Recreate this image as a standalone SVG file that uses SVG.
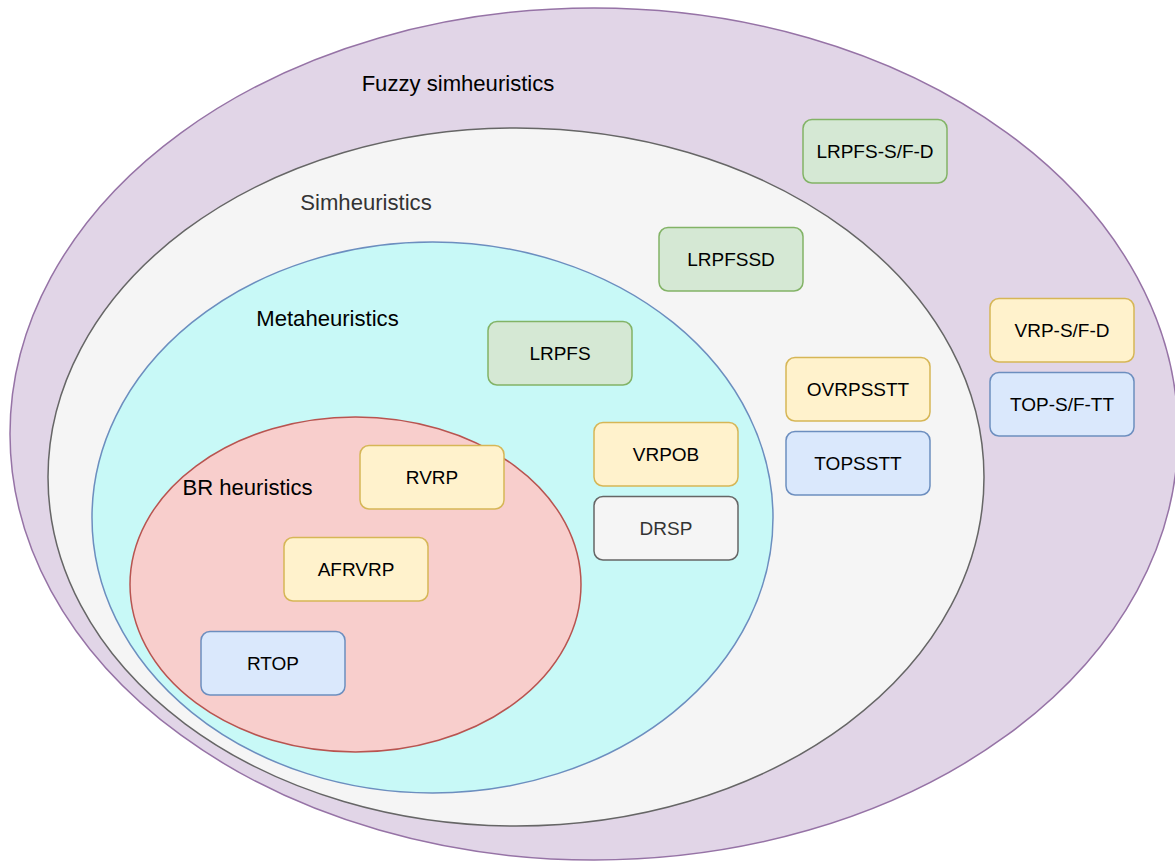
<svg xmlns="http://www.w3.org/2000/svg" width="1175" height="861" viewBox="0 0 1175 861">
<style>
text{font-family:"Liberation Sans",Arial,sans-serif;text-anchor:middle;fill:#000}
.lbl{font-size:22.1px}
.bt{font-size:19px}
.box{stroke-width:1.5}
.green{fill:#d5e8d4;stroke:#82b366}
.yellow{fill:#fff2cc;stroke:#d6b656}
.blue{fill:#dae8fc;stroke:#6c8ebf}
.grey{fill:#f5f5f5;stroke:#666666}
</style>
<rect width="1175" height="861" fill="#ffffff"/>
<g id="fuzzy">
<ellipse cx="594" cy="434" rx="584" ry="426" fill="#e1d5e7" stroke="#9673a6" stroke-width="1.5"/>
<text class="lbl" x="458" y="91">Fuzzy simheuristics</text>
</g>
<g id="simheuristics">
<ellipse cx="516" cy="477" rx="468" ry="349" fill="#f5f5f5" stroke="#666666" stroke-width="1.5"/>
<text class="lbl" x="366" y="210" style="fill:#333333">Simheuristics</text>
</g>
<g id="metaheuristics">
<ellipse cx="432.5" cy="517.5" rx="340.5" ry="275.5" fill="#c8f9f7" stroke="#6c8ebf" stroke-width="1.5"/>
<text class="lbl" x="327.5" y="326">Metaheuristics</text>
</g>
<g id="br">
<ellipse cx="355.5" cy="584.5" rx="225.5" ry="167.5" fill="#f8cecc" stroke="#b85450" stroke-width="1.5"/>
<text class="lbl" x="247.5" y="495">BR heuristics</text>
</g>
<g id="connectors"></g>
<g id="n-lrpfs-sfd"><rect class="box green" x="803" y="119.5" width="144" height="63.5" rx="9"/><text class="bt" x="875" y="158">LRPFS-S/F-D</text></g>
<g id="n-lrpfssd"><rect class="box green" x="659" y="227.5" width="144" height="63.5" rx="9"/><text class="bt" x="731" y="266">LRPFSSD</text></g>
<g id="n-lrpfs"><rect class="box green" x="488" y="321.5" width="144" height="63.5" rx="9"/><text class="bt" x="560" y="360">LRPFS</text></g>
<g id="n-vrp-sfd"><rect class="box yellow" x="990" y="298.5" width="144" height="63.5" rx="9"/><text class="bt" x="1062" y="337">VRP-S/F-D</text></g>
<g id="n-top-sftt"><rect class="box blue" x="990" y="372.5" width="144" height="63.5" rx="9"/><text class="bt" x="1062" y="411">TOP-S/F-TT</text></g>
<g id="n-ovrpsstt"><rect class="box yellow" x="786" y="357.5" width="144" height="63.5" rx="9"/><text class="bt" x="858" y="396">OVRPSSTT</text></g>
<g id="n-topsstt"><rect class="box blue" x="786" y="431.5" width="144" height="63.5" rx="9"/><text class="bt" x="858" y="470">TOPSSTT</text></g>
<g id="n-vrpob"><rect class="box yellow" x="594" y="422.5" width="144" height="63.5" rx="9"/><text class="bt" x="666" y="461">VRPOB</text></g>
<g id="n-drsp"><rect class="box grey" x="594" y="496.5" width="144" height="63.5" rx="9"/><text class="bt" x="666" y="535" style="fill:#333333">DRSP</text></g>
<g id="n-rvrp"><rect class="box yellow" x="360" y="445.5" width="144" height="63.5" rx="9"/><text class="bt" x="432" y="484">RVRP</text></g>
<g id="n-afrvrp"><rect class="box yellow" x="284" y="537.5" width="144" height="63.5" rx="9"/><text class="bt" x="356" y="576">AFRVRP</text></g>
<g id="n-rtop"><rect class="box blue" x="201" y="631.5" width="144" height="63.5" rx="9"/><text class="bt" x="273" y="670">RTOP</text></g>
</svg>
